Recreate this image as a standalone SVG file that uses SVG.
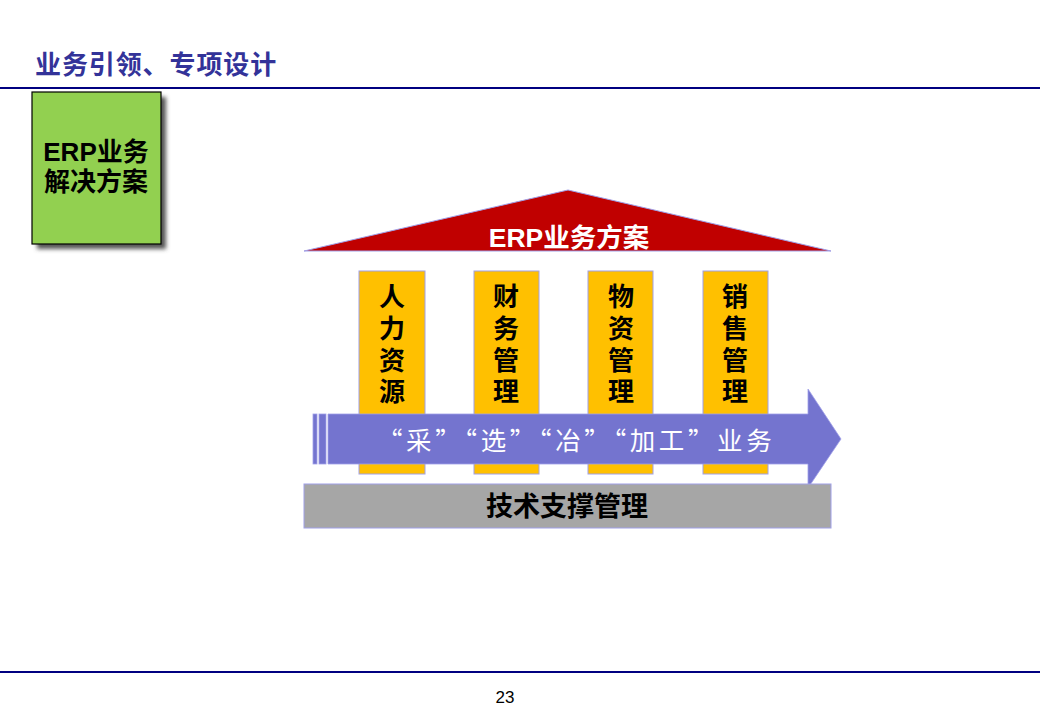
<svg xmlns="http://www.w3.org/2000/svg" width="1040" height="720" viewBox="0 0 1040 720">
<style>
.cjk{font-family:"Liberation Sans","Noto Sans CJK SC",sans-serif;font-weight:bold}
.pillar{fill:#FFC000;stroke:#A0A0E8;stroke-width:1}
.ptxt{font-family:"Liberation Sans","Noto Sans CJK SC",sans-serif;font-weight:bold;font-size:26px;fill:#000;text-anchor:middle}
.rule{stroke:#000080;stroke-width:2}
.num{font-family:"Liberation Sans Narrow","Liberation Sans",sans-serif}
.flowtxt{font-family:"Noto Sans CJK SC",serif}
</style>
<defs>
<filter id="sh" x="-20%" y="-20%" width="150%" height="150%">
<feGaussianBlur stdDeviation="2"/>
</filter>
</defs>
<rect width="1040" height="720" fill="#fff"/>
<text x="35" y="74" class="cjk" font-size="26" letter-spacing="0.9" fill="#333399">业务引领、专项设计</text>
<line class="rule" x1="0" y1="88" x2="1040" y2="88"/>
<line class="rule" x1="0" y1="672" x2="1040" y2="672"/>
<text x="505" y="703" class="num" font-size="17" text-anchor="middle" fill="#000">23</text>

<g id="solution">
<rect x="37" y="97" width="129" height="152" fill="#555" filter="url(#sh)"/>
<rect x="32" y="92" width="129" height="152" fill="#92D050" stroke="#000" stroke-width="1.2"/>
<text x="96" y="161" class="cjk" font-size="26" text-anchor="middle" fill="#000">ERP业务</text>
<text x="96" y="191" class="cjk" font-size="26" text-anchor="middle" fill="#000">解决方案</text>
</g>

<g id="roof">
<polygon points="304,251 568,190 831,251" fill="#C00000" stroke="#A0A0E8" stroke-width="1"/>
<text x="569" y="247" class="cjk" font-size="26.5" text-anchor="middle" fill="#fff">ERP业务方案</text>
</g>

<g id="p1"><rect class="pillar" x="359" y="271" width="66" height="203"/>
<text class="ptxt" x="392" y="306">人</text><text class="ptxt" x="392" y="338">力</text><text class="ptxt" x="392" y="370">资</text><text class="ptxt" x="392" y="401">源</text></g>
<g id="p2"><rect class="pillar" x="474" y="271" width="65" height="203"/>
<text class="ptxt" x="506" y="306">财</text><text class="ptxt" x="506" y="338">务</text><text class="ptxt" x="506" y="370">管</text><text class="ptxt" x="506" y="401">理</text></g>
<g id="p3"><rect class="pillar" x="588" y="271" width="65" height="203"/>
<text class="ptxt" x="621" y="306">物</text><text class="ptxt" x="621" y="338">资</text><text class="ptxt" x="621" y="370">管</text><text class="ptxt" x="621" y="401">理</text></g>
<g id="p4"><rect class="pillar" x="703" y="271" width="65" height="203"/>
<text class="ptxt" x="735" y="306">销</text><text class="ptxt" x="735" y="338">售</text><text class="ptxt" x="735" y="370">管</text><text class="ptxt" x="735" y="401">理</text></g>

<g id="flow">
<rect x="313" y="414" width="4" height="50" fill="#7474CF" stroke="#A0A0E8" stroke-width="0.8"/>
<rect x="319" y="414" width="7" height="50" fill="#7474CF" stroke="#A0A0E8" stroke-width="0.8"/>
<polygon points="328,414 808,414 808,389 841,439 808,488 808,464 328,464" fill="#7474CF" stroke="#A0A0E8" stroke-width="0.8"/>
<text x="377" y="450" class="flowtxt" font-size="25.5" letter-spacing="3.6" fill="#fff">“采”“选”“冶”“加工”业务</text>
</g>

<g id="base">
<rect x="304" y="484" width="527" height="44" fill="#A6A6A6" stroke="#A0A0E8" stroke-width="1"/>
<text x="567" y="516" class="cjk" font-size="27" text-anchor="middle" fill="#000">技术支撑管理</text>
</g>
</svg>
